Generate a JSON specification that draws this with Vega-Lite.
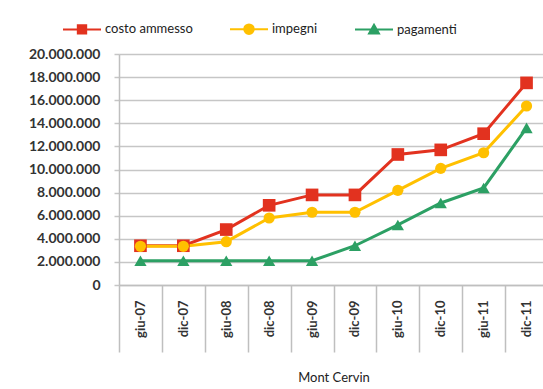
{
  "$schema": "https://vega.github.io/schema/vega-lite/v6.json",
  "width": 429,
  "height": 231,
  "autosize": {"type": "none"},
  "padding": {"left": 119, "top": 54, "right": -5, "bottom": 104},
  "background": "white",
  "config": {
    "locale": {"number": {"decimal": ",", "thousands": ".", "grouping": [3], "currency": ["€", ""]}},
    "view": {"stroke": null},
    "font": "Lato"
  },
  "data": {
    "values": [
      {"periodo": "giu-07", "serie": "costo ammesso", "valore": 3400000},
      {"periodo": "dic-07", "serie": "costo ammesso", "valore": 3400000},
      {"periodo": "giu-08", "serie": "costo ammesso", "valore": 4800000},
      {"periodo": "dic-08", "serie": "costo ammesso", "valore": 6900000},
      {"periodo": "giu-09", "serie": "costo ammesso", "valore": 7800000},
      {"periodo": "dic-09", "serie": "costo ammesso", "valore": 7800000},
      {"periodo": "giu-10", "serie": "costo ammesso", "valore": 11300000},
      {"periodo": "dic-10", "serie": "costo ammesso", "valore": 11700000},
      {"periodo": "giu-11", "serie": "costo ammesso", "valore": 13100000},
      {"periodo": "dic-11", "serie": "costo ammesso", "valore": 17500000},
      {"periodo": "giu-07", "serie": "impegni", "valore": 3350000},
      {"periodo": "dic-07", "serie": "impegni", "valore": 3350000},
      {"periodo": "giu-08", "serie": "impegni", "valore": 3750000},
      {"periodo": "dic-08", "serie": "impegni", "valore": 5800000},
      {"periodo": "giu-09", "serie": "impegni", "valore": 6300000},
      {"periodo": "dic-09", "serie": "impegni", "valore": 6300000},
      {"periodo": "giu-10", "serie": "impegni", "valore": 8200000},
      {"periodo": "dic-10", "serie": "impegni", "valore": 10100000},
      {"periodo": "giu-11", "serie": "impegni", "valore": 11450000},
      {"periodo": "dic-11", "serie": "impegni", "valore": 15500000},
      {"periodo": "giu-07", "serie": "pagamenti", "valore": 2100000},
      {"periodo": "dic-07", "serie": "pagamenti", "valore": 2100000},
      {"periodo": "giu-08", "serie": "pagamenti", "valore": 2100000},
      {"periodo": "dic-08", "serie": "pagamenti", "valore": 2100000},
      {"periodo": "giu-09", "serie": "pagamenti", "valore": 2100000},
      {"periodo": "dic-09", "serie": "pagamenti", "valore": 3400000},
      {"periodo": "giu-10", "serie": "pagamenti", "valore": 5200000},
      {"periodo": "dic-10", "serie": "pagamenti", "valore": 7100000},
      {"periodo": "giu-11", "serie": "pagamenti", "valore": 8400000},
      {"periodo": "dic-11", "serie": "pagamenti", "valore": 13600000}
    ]
  },
  "encoding": {
    "x": {
      "field": "periodo",
      "type": "nominal",
      "sort": null,
      "scale": {"paddingInner": 0, "paddingOuter": 0},
      "axis": {
        "title": "Mont Cervin",
        "titleY": 92,
        "titleBaseline": "middle",
        "titleFontSize": 13,
        "titleFontWeight": "normal",
        "titleColor": "#222222",
        "labelAngle": -90,
        "labelPadding": -52,
        "tickSize": 67,
        "tickBand": "extent",
        "tickColor": "#bfbfbf",
        "tickWidth": 1.5,
        "domainColor": "#bfbfbf",
        "domainWidth": 1.5,
        "labelFontSize": 13,
        "labelFontWeight": "bold",
        "labelColor": "#333333",
        "grid": false
      }
    },
    "y": {
      "field": "valore",
      "type": "quantitative",
      "scale": {"domain": [0, 20000000], "nice": false},
      "axis": {
        "values": [0, 2000000, 4000000, 6000000, 8000000, 10000000, 12000000, 14000000, 16000000, 18000000, 20000000],
        "format": ",d",
        "title": null,
        "tickSize": 5,
        "labelPadding": 14,
        "gridColor": "#c6c6c6",
        "gridWidth": 1.5,
        "tickColor": "#c6c6c6",
        "tickWidth": 1.5,
        "domainColor": "#bfbfbf",
        "domainWidth": 1.5,
        "labelFontSize": 14,
        "labelFontWeight": "bold",
        "labelColor": "#333333"
      }
    }
  },
  "layer": [
    {
      "data": {"values": [{}]},
      "mark": {"type": "rule", "color": "#bfbfbf", "strokeWidth": 1.5},
      "encoding": {
        "x": {"datum": "giu-07", "bandPosition": 0},
        "y": {"datum": 0},
        "y2": {"datum": -9000000}
      }
    },
    {
      "mark": {"type": "line", "strokeWidth": 3},
      "encoding": {
        "color": {
          "field": "serie",
          "type": "nominal",
          "scale": {"domain": ["costo ammesso", "impegni", "pagamenti"], "range": ["#E2321F", "#FFC000", "#2CA064"]},
          "legend": {
            "title": null,
            "orient": "none",
            "legendX": -57,
            "legendY": -45,
            "direction": "horizontal",
            "padding": 0,
            "columnPadding": 33,
            "labelOffset": 3,
            "labelFontSize": 13,
            "labelColor": "#222222",
            "symbolSize": 1444,
            "symbolStrokeWidth": 2,
            "encode": {
              "symbols": {
                "update": {
                  "shape": {"signal": "datum.value === 'costo ammesso' ? 'M-1,0H1M-0.22,-0.22H0.22V0.22H-0.22Z' : datum.value === 'impegni' ? 'M-1,0H1M-0.25,0A0.25,0.25,0,1,1,0.25,0A0.25,0.25,0,1,1,-0.25,0Z' : 'M-1,0H1M0,-0.26L0.26,0.2H-0.26Z'"},
                  "fill": {"scale": "color", "field": "value"},
                  "stroke": {"scale": "color", "field": "value"},
                  "strokeWidth": {"value": 2},
                  "opacity": {"value": 1}
                }
              }
            }
          }
        }
      }
    },
    {
      "transform": [{"filter": "datum.serie === 'costo ammesso'"}],
      "mark": {"type": "point", "shape": "square", "filled": true, "opacity": 1, "color": "#E2321F", "size": 160}
    },
    {
      "transform": [{"filter": "datum.serie === 'impegni'"}],
      "mark": {"type": "point", "shape": "circle", "filled": true, "opacity": 1, "color": "#FFC000", "size": 125}
    },
    {
      "transform": [{"filter": "datum.serie === 'pagamenti'"}],
      "mark": {"type": "point", "shape": "triangle-up", "filled": true, "opacity": 1, "color": "#2CA064", "size": 150}
    }
  ]
}
